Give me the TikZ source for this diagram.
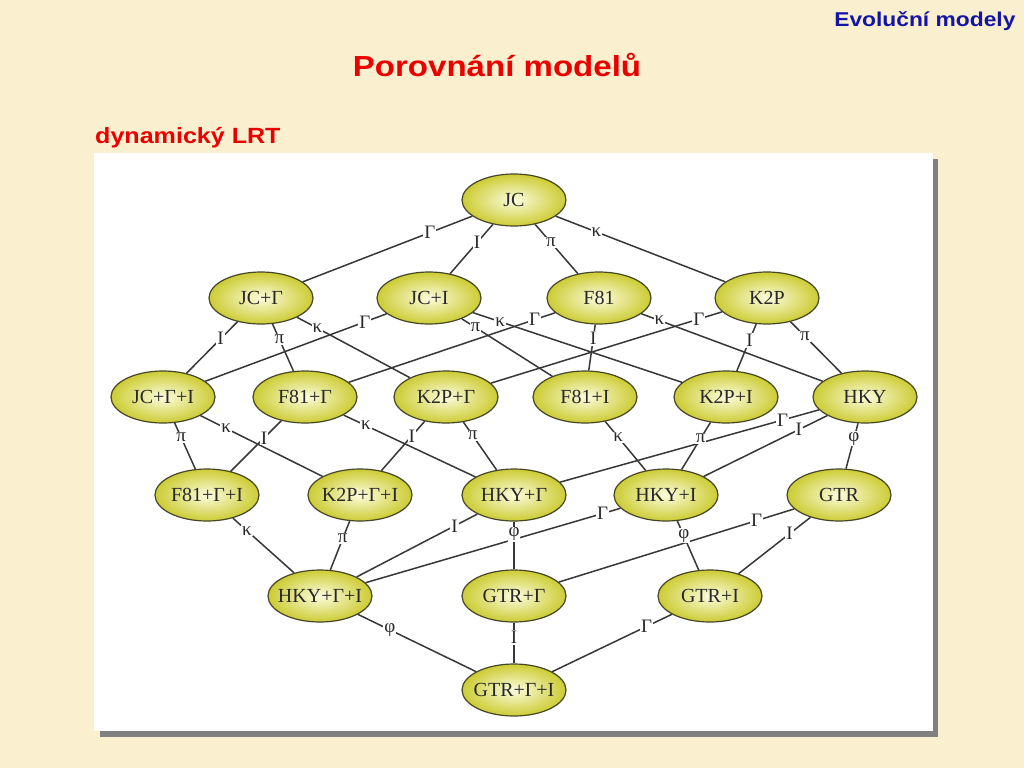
\documentclass[tikz,border=0pt]{standalone}
\usepackage{fontspec}
\setmainfont{Liberation Serif}
\newfontfamily\headfont[FakeStretch=1.14]{Liberation Sans}
\usetikzlibrary{shapes.geometric}
\definecolor{slide}{RGB}{250,240,207}
\definecolor{shadow}{RGB}{128,128,128}
\definecolor{headred}{RGB}{235,0,0}
\definecolor{headblue}{RGB}{20,20,165}
\definecolor{nodein}{RGB}{252,252,222}
\definecolor{nodeout}{RGB}{204,204,52}
\definecolor{nodeline}{RGB}{70,70,40}
\definecolor{linkcol}{RGB}{55,55,55}
\definecolor{inktext}{RGB}{40,40,40}
\tikzset{
  model/.style={ellipse, draw=nodeline, line width=1.2pt, shade, inner color=nodein,
    outer color=nodeout, minimum width=104pt, minimum height=52pt, inner xsep=-6pt,
    inner ysep=0pt, font=\fontsize{20}{20}\selectfont, text=inktext},
  link/.style={draw=linkcol, line width=1.5pt},
  lab/.style={fill=white, inner sep=1pt, font=\fontsize{19}{19}\selectfont, text=inktext},
}

\begin{document}
\begin{tikzpicture}[x=1pt,y=-1pt]
		%%%%% START %%%%%
		
		\fill[slide] (0, 0) rectangle (1024, 768);
		\useasboundingbox (0, 0) rectangle (1024, 768);
		
		\node[anchor=base east, text=headblue, font=\headfont\bfseries\fontsize{20}{20}\selectfont] (head) at (1019, 27) {Evoluční modely};
		\node[anchor=base, text=headred, font=\headfont\bfseries\fontsize{29}{29}\selectfont] (title) at (497, 77) {Porovnání modelů};
		\node[anchor=base west, inner sep=0pt, text=headred, font=\headfont\bfseries\fontsize{22}{22}\selectfont] (sub) at (95, 143) {dynamický LRT};
		
		\fill[shadow] (100, 159) rectangle (938, 737);
		\fill[white] (94, 153) rectangle (933, 731);
		
		% models, top to bottom
		\node[model] (jc) at (514, 200) {JC};
		
		\node[model] (jcg) at (261, 298) {JC+Γ};
		\node[model] (jci) at (429, 298) {JC+I};
		\node[model] (fe) at (599, 298) {F81};
		\node[model] (kp) at (767, 298) {K2P};
		
		\node[model] (jcgi) at (163, 397) {JC+Γ+I};
		\node[model] (feg) at (305, 397) {F81+Γ};
		\node[model] (kpg) at (446, 397) {K2P+Γ};
		\node[model] (fei) at (585, 397) {F81+I};
		\node[model] (kpi) at (726, 397) {K2P+I};
		\node[model] (hky) at (865, 397) {HKY};
		
		\node[model] (fegi) at (207, 495) {F81+Γ+I};
		\node[model] (kpgi) at (360, 495) {K2P+Γ+I};
		\node[model] (hkyg) at (514, 495) {HKY+Γ};
		\node[model] (hkyi) at (666, 495) {HKY+I};
		\node[model] (gtr) at (839, 495) {GTR};
		
		\node[model] (hkygi) at (320, 596) {HKY+Γ+I};
		\node[model] (gtrg) at (514, 596) {GTR+Γ};
		\node[model] (gtri) at (710, 596) {GTR+I};
		
		\node[model] (gtrgi) at (514, 690) {GTR+Γ+I};
		
		% links
		\draw[link] (jc) -- node[lab, pos=0.25] {Γ} (jcg);
		\draw[link] (jc) -- node[lab, pos=0.37] {I} (jci);
		\draw[link] (jc) -- node[lab, pos=0.37] {π} (fe);
		\draw[link] (jc) -- node[lab, pos=0.24] {κ} (kp);
		
		\draw[link] (jcg) -- node[lab, pos=0.33] {I} (jcgi);
		\draw[link] (jcg) -- node[lab, pos=0.33] {π} (feg);
		\draw[link] (jcg) -- node[lab, pos=0.18] {κ} (kpg);
		\draw[link] (jci) -- node[lab, pos=0.12] {Γ} (jcgi);
		\draw[link] (jci) -- node[lab, pos=0.15] {π} (fei);
		\draw[link] (jci) -- node[lab, pos=0.13] {κ} (kpi);
		\draw[link] (fe) -- node[lab, pos=0.10] {Γ} (feg);
		\draw[link] (fe) -- node[lab, pos=0.30] {I} (fei);
		\draw[link] (fe) -- node[lab, pos=0.10] {κ} (hky);
		\draw[link] (kp) -- node[lab, pos=0.10] {Γ} (kpg);
		\draw[link] (kp) -- node[lab, pos=0.35] {I} (kpi);
		\draw[link] (kp) -- node[lab, pos=0.28] {π} (hky);
		
		\draw[link] (jcgi) -- node[lab, pos=0.31] {π} (fegi);
		\draw[link] (jcgi) -- node[lab, pos=0.21] {κ} (kpgi);
		\draw[link] (feg) -- node[lab, pos=0.34] {I} (fegi);
		\draw[link] (feg) -- node[lab, pos=0.17] {κ} (hkyg);
		\draw[link] (kpg) -- node[lab, pos=0.30] {I} (kpgi);
		\draw[link] (kpg) -- node[lab, pos=0.28] {π} (hkyg);
		\draw[link] (fei) -- node[lab, pos=0.32] {κ} (hkyi);
		\draw[link] (hky) -- node[lab, pos=0.14] {Γ} (hkyg);
		\draw[link] (hky) -- node[lab, pos=0.23] {I} (hkyi);
		\draw[link] (hky) -- node[lab, pos=0.34] {φ} (gtr);
		\draw[link] (kpi) -- node[lab, pos=0.34] {π} (hkyi);
		
		\draw[link] (fegi) -- node[lab, pos=0.23] {κ} (hkygi);
		\draw[link] (kpgi) -- node[lab, pos=0.36] {π} (hkygi);
		\draw[link] (hkyg) -- node[lab, pos=0.19] {I} (hkygi);
		\draw[link] (hkyi) -- node[lab, pos=0.07] {Γ} (hkygi);
		\draw[link] (gtr) -- node[lab, pos=0.16] {Γ} (gtrg);
		\draw[link] (gtr) -- node[lab, pos=0.29] {I} (gtri);
		\draw[link] (hkyg) -- node[lab, pos=0.27] {φ} (gtrg);
		\draw[link] (hkyi) -- node[lab, pos=0.30] {φ} (gtri);
		
		\draw[link] (hkygi) -- node[lab, pos=0.27] {φ} (gtrgi);
		\draw[link] (gtrg) -- node[lab, pos=0.36] {I} (gtrgi);
		\draw[link] (gtri) -- node[lab, pos=0.21] {Γ} (gtrgi);
		
		%%%%% END %%%%%
	\end{tikzpicture}
\end{document}
